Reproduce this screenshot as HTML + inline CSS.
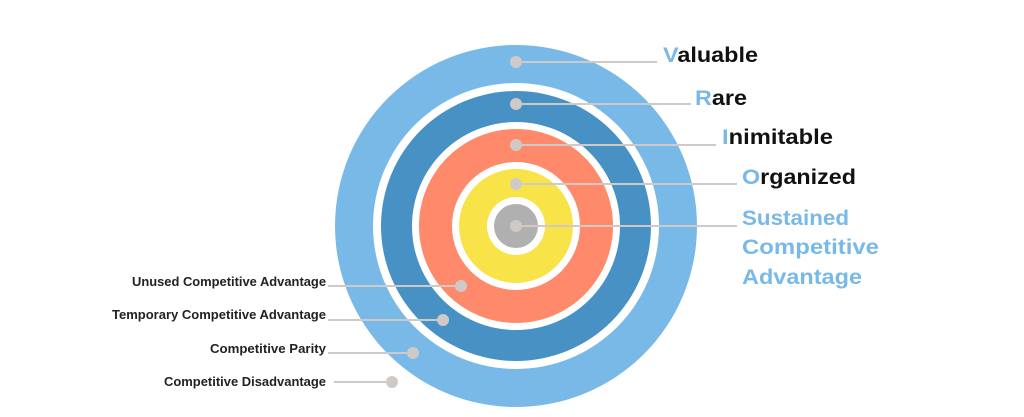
<!DOCTYPE html>
<html><head><meta charset="utf-8"><style>
html,body{margin:0;padding:0;background:#fff;}
svg{display:block;}
text{font-family:"Liberation Sans",sans-serif;font-weight:bold;}
</style></head><body>
<svg width="1024" height="417" viewBox="0 0 1024 417" xmlns="http://www.w3.org/2000/svg">
<rect width="1024" height="417" fill="#fff"/>
<circle cx="516" cy="226" r="181" fill="#79b9e7"/>
<circle cx="516" cy="226" r="143" fill="#fff"/>
<circle cx="516" cy="226" r="135" fill="#4891c4"/>
<circle cx="516" cy="226" r="104" fill="#fff"/>
<circle cx="516" cy="226" r="97" fill="#fe8a6b"/>
<circle cx="516" cy="226" r="64" fill="#fff"/>
<circle cx="516" cy="226" r="57" fill="#f8e448"/>
<circle cx="516" cy="226" r="29" fill="#fff"/>
<circle cx="516" cy="226" r="22" fill="#b0b0b0"/>
<g stroke="#cfcac8" stroke-width="2">
<line x1="516" y1="62" x2="657" y2="62"/>
<line x1="516" y1="104" x2="691" y2="104"/>
<line x1="516" y1="145" x2="716" y2="145"/>
<line x1="516" y1="184" x2="737" y2="184"/>
<line x1="516" y1="226" x2="737" y2="226"/>
<line x1="328" y1="286" x2="461" y2="286"/>
<line x1="328" y1="320" x2="443" y2="320"/>
<line x1="328" y1="353" x2="413" y2="353"/>
<line x1="334" y1="382" x2="392" y2="382"/>
</g>
<g fill="#cfcac8">
<circle cx="516" cy="62" r="6"/>
<circle cx="516" cy="104" r="6"/>
<circle cx="516" cy="145" r="6"/>
<circle cx="516" cy="184" r="6"/>
<circle cx="516" cy="226" r="6"/>
<circle cx="461" cy="286" r="6"/>
<circle cx="443" cy="320" r="6"/>
<circle cx="413" cy="353" r="6"/>
<circle cx="392" cy="382" r="6"/>
</g>
<g font-size="21" fill="#111">
<text x="663" y="62" textLength="95" lengthAdjust="spacingAndGlyphs"><tspan fill="#79b9e7">V</tspan>aluable</text>
<text x="695" y="105" textLength="52" lengthAdjust="spacingAndGlyphs"><tspan fill="#79b9e7">R</tspan>are</text>
<text x="722" y="144" textLength="111" lengthAdjust="spacingAndGlyphs"><tspan fill="#79b9e7">I</tspan>nimitable</text>
<text x="742" y="184" textLength="114" lengthAdjust="spacingAndGlyphs"><tspan fill="#79b9e7">O</tspan>rganized</text>
</g>
<g font-size="21" fill="#79b9e7">
<text x="742" y="225" textLength="107" lengthAdjust="spacingAndGlyphs">Sustained</text>
<text x="742" y="254" textLength="137" lengthAdjust="spacingAndGlyphs">Competitive</text>
<text x="742" y="284" textLength="120" lengthAdjust="spacingAndGlyphs">Advantage</text>
</g>
<g font-size="12.5" fill="#222">
<text x="132" y="286" textLength="194" lengthAdjust="spacingAndGlyphs">Unused Competitive Advantage</text>
<text x="112" y="319" textLength="214" lengthAdjust="spacingAndGlyphs">Temporary Competitive Advantage</text>
<text x="210" y="353" textLength="116" lengthAdjust="spacingAndGlyphs">Competitive Parity</text>
<text x="164" y="386" textLength="162" lengthAdjust="spacingAndGlyphs">Competitive Disadvantage</text>
</g>
</svg>
</body></html>
